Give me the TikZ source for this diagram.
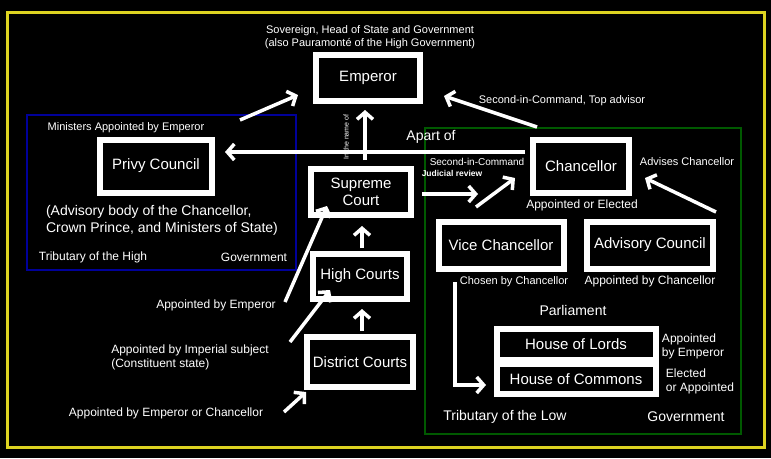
\documentclass[tikz,border=0pt]{standalone}
\usepackage{fontspec}
\setmainfont{Liberation Sans}
\usetikzlibrary{arrows.meta}
\begin{document}
\begin{tikzpicture}[x=1pt,y=-1pt,
  wbox/.style={draw=white,line width=6pt,fill=black,text=white,font=\fontsize{15}{17}\selectfont,align=center},
  lbl/.style={text=white,font=\fontsize{12}{14}\selectfont,inner sep=1pt},
  arr/.style={draw=white,line width=3.5pt,-{Straight Barb[length=7pt,width=16pt]}},
  ln/.style={draw=white,line width=3pt}]
\fill[black] (0,0) rectangle (771,458);
\useasboundingbox (0,0) rectangle (771,458);
\draw[yellow!85!black,line width=3pt] (7,12) rectangle (764,447);
\draw[blue!60!black,line width=2pt] (27,115) rectangle (296,270);
\draw[green!35!black,line width=2pt] (425,128) rectangle (741,434);

\node[wbox,minimum width=104pt,minimum height=46pt] (emp) at (368,78) {Emperor};
\node[wbox,minimum width=112pt,minimum height=53pt] (pc) at (156,166) {Privy Council};
\node[wbox,minimum width=100pt,minimum height=46pt] (sc) at (361,192) {Supreme\\Court};
\node[wbox,minimum width=94pt,minimum height=45pt] (hc) at (360,276) {High Courts};
\node[wbox,minimum width=106pt,minimum height=50pt] (dc) at (360,362) {District Courts};
\node[wbox,minimum width=96pt,minimum height=53pt] (ch) at (581,166) {Chancellor};
\node[wbox,minimum width=125pt,minimum height=47pt] (vc) at (501,245) {Vice Chancellor};
\node[wbox,minimum width=126pt,minimum height=47pt] (ac) at (650,245) {Advisory Council};
\node[wbox,minimum width=159pt,minimum height=31pt] (hl) at (576,344) {House of Lords};
\node[wbox,minimum width=159pt,minimum height=30pt] (hcm) at (576,379) {House of Commons};

\node[lbl,align=center,font=\fontsize{11}{13}\selectfont] (sov) at (370,37) {Sovereign, Head of State and Government\\(also Pauramonté of the High Government)};
\node[lbl,font=\fontsize{11}{13}\selectfont] (mae) at (126,128) {Ministers Appointed by Emperor};
\node[lbl,align=left,font=\fontsize{14}{17}\selectfont] (adv) at (162,220) {(Advisory body of the Chancellor,\\Crown Prince, and Ministers of State)};
\node[lbl] (trh) at (93,257) {Tributary of the High};
\node[lbl] (gov1) at (254,257) {Government};
\node[lbl,font=\fontsize{11}{13}\selectfont] (sic) at (562,101) {Second-in-Command, Top advisor};
\node[lbl,font=\fontsize{14}{16}\selectfont] (apo) at (431,137) {Apart of};
\node[lbl,font=\fontsize{7}{8}\selectfont,rotate=90] (inn) at (346,137) {In the name of};
\node[lbl,font=\fontsize{10}{11}\selectfont] (sic2) at (477,162) {Second-in-Command};
\node[lbl,font=\fontsize{8.5}{9}\bfseries] (jr) at (452,173) {Judicial review};
\node[lbl,font=\fontsize{11}{13}\selectfont] (adch) at (687,162) {Advises Chancellor};
\node[lbl] (aoe) at (582,205) {Appointed or Elected};
\node[lbl,font=\fontsize{11}{13}\selectfont] (cbc) at (514,282) {Chosen by Chancellor};
\node[lbl] (abc) at (650,281) {Appointed by Chancellor};
\node[lbl,font=\fontsize{14}{16}\selectfont] (parl) at (573,310) {Parliament};
\node[lbl,align=left] (abe2) at (693,346) {Appointed\\ by Emperor};
\node[lbl,align=left] (eoa) at (700,381) {Elected\\ or Appointed};
\node[lbl,font=\fontsize{14}{16}\selectfont] (trl) at (505,417) {Tributary of the Low};
\node[lbl,font=\fontsize{14}{16}\selectfont] (gov2) at (686,417) {Government};
\node[lbl] (abe) at (216,305) {Appointed by Emperor};
\node[lbl,align=left] (abi) at (190,357) {Appointed by Imperial subject\\(Constituent state)};
\node[lbl] (aec) at (166,413) {Appointed by Emperor or Chancellor};

\coordinate (a1) at (240,120); \coordinate (a1e) at (298,95);
\draw[arr] (a1) -- (a1e);
\coordinate (a2) at (537,127); \coordinate (a2e) at (444,96);
\draw[arr] (a2) -- (a2e);
\coordinate (a3) at (365,160); \coordinate (a3e) at (365,110);
\draw[arr] (a3) -- (a3e);
\coordinate (a4) at (525,152); \coordinate (a4e) at (225,152);
\draw[arr] (a4) -- (a4e);
\coordinate (a5) at (422,194); \coordinate (a5e) at (478,194);
\draw[arr] (a5) -- (a5e);
\coordinate (a6) at (476,207); \coordinate (a6e) at (515,178);
\draw[arr] (a6) -- (a6e);
\coordinate (a7) at (362,248); \coordinate (a7e) at (362,226);
\draw[arr] (a7) -- (a7e);
\coordinate (a8) at (362,331); \coordinate (a8e) at (362,309);
\draw[arr] (a8) -- (a8e);
\coordinate (a9) at (716,212); \coordinate (a9e) at (645,178);
\draw[arr] (a9) -- (a9e);
\coordinate (a10) at (455,282); \coordinate (a10e) at (486,385);
\draw[arr] (a10) |- (a10e);
\coordinate (a11) at (285,302); \coordinate (a11e) at (327,206);
\draw[arr] (a11) -- (a11e);
\coordinate (a12) at (290,342); \coordinate (a12e) at (330,290);
\draw[arr] (a12) -- (a12e);
\coordinate (a13) at (284,412); \coordinate (a13e) at (306,392);
\draw[arr] (a13) -- (a13e);
\end{tikzpicture}
\end{document}
